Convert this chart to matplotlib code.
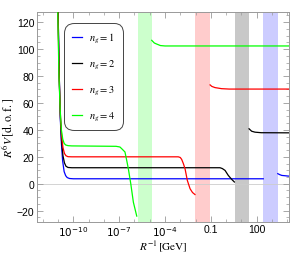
import matplotlib
matplotlib.use('Agg')
import matplotlib.pyplot as plt
import numpy as np

plt.rcParams['font.family'] = ['Liberation Sans', 'DejaVu Sans']
plt.rcParams['mathtext.fontset'] = 'stix'
plt.rcParams['axes.unicode_minus'] = True

# curves: log10(R^-1 / GeV) and R^6 V [d.o.f.]
labels = [r'$n_g = 1$', r'$n_g = 2$', r'$n_g = 3$', r'$n_g = 4$']
colors = ['#0000ff', '#000000', '#ff0000', '#00ff00']

blue_lx = [-11.0, -10.92, -10.85, -10.78, -10.7, -10.6, -10.5, -10.4, -10.25, -10.0, 2.43]
blue_y = [130, 80, 48, 30, 17, 9, 6, 4.6, 3.9, 3.7, 3.7]
blue2_lx = [3.38, 3.5, 3.64, 4.07, 4.3]
blue2_y = [7.5, 6.8, 6.2, 5.7, 5.6]

black_lx = [-11.0, -10.92, -10.85, -10.77, -10.68, -10.58, -10.48, -10.35, -10.1, -0.40, -0.25, -0.07, 0.14, 0.37, 0.54]
black_y = [130, 80, 50, 32, 21, 15.5, 13, 12.1, 11.9, 11.9, 11.3, 9.9, 6.2, 3.2, 1.3]
black2_lx = [1.50, 1.67, 1.89, 2.3, 4.3]
black2_y = [40.8, 39, 38.3, 37.9, 37.8]

red_lx = [-11.01, -10.93, -10.85, -10.77, -10.68, -10.58, -10.48, -10.35, -10.1, -3.13, -3.0, -2.91, -2.8, -2.69, -2.54, -2.36, -2.2, -2.04]
red_y = [130, 80, 52, 36, 27, 22.5, 20.8, 20.1, 20, 20, 19.5, 18.1, 15, 11.2, 2.5, -3.7, -6.5, -8]
red2_lx = [-1.05, -0.94, -0.73, -0.3, 0.2, 4.3]
red2_y = [73.4, 72.3, 71.4, 70.6, 70.3, 70.3]

green_lx = [-11.02, -10.94, -10.86, -10.78, -10.69, -10.6, -10.5, -10.35, -10.1, -7.2, -6.95, -6.83, -6.62, -6.5, -6.40, -6.24, -6.07, -5.85]
green_y = [130, 80, 55, 40, 33, 30, 28.8, 28.3, 28.1, 27.8, 27.3, 26, 23.6, 17, 11.2, 0, -13.7, -24]
green2_lx = [-4.87, -4.7, -4.54, -4.3, -4.0, 4.3]
green2_y = [106.5, 104.5, 103.7, 102.6, 102.3, 102.3]

# excluded bands (log10 GeV)
bands = [(-5.79, -4.87, '#ccffcc'), (-2.04, -1.05, '#ffcccc'),
         (0.56, 1.50, '#c8c8c8'), (2.43, 3.38, '#ccccff')]

xticks = [1e-10, 1e-7, 1e-4, 0.1, 100]
xticklabels = [r'$10^{-10}$', r'$10^{-7}$', r'$10^{-4}$', '0.1', '100']
yticks = [-20, 0, 20, 40, 60, 80, 100, 120]

fig = plt.figure(figsize=(2.91, 2.55), dpi=100)
ax = fig.add_axes([0.128, 0.127, 0.866, 0.823])

for lo, hi, c in bands:
    ax.axvspan(10**lo, 10**hi, color=c, lw=0, zorder=0)
ax.axhline(0, color='#cccccc', lw=0.6, zorder=1)

segs = [(blue_lx, blue_y, blue2_lx, blue2_y), (black_lx, black_y, black2_lx, black2_y),
        (red_lx, red_y, red2_lx, red2_y), (green_lx, green_y, green2_lx, green2_y)]
for (lx, y, lx2, y2), c, lab in zip(segs, colors, labels):
    ax.plot(10**np.array(lx), y, color=c, lw=0.9, label=lab, zorder=3)
    ax.plot(10**np.array(lx2), y2, color=c, lw=0.9, zorder=3)

ax.set_xscale('log')
ax.set_xlim(10**-12.36, 10**4.13)
ax.set_ylim(-28.1, 127.7)

ax.set_xticks(xticks)
ax.set_xticklabels(xticklabels, math_fontfamily='dejavusans')
ax.xaxis.set_minor_locator(matplotlib.ticker.LogLocator(base=10, subs=(1.0,), numticks=30))
ax.xaxis.set_minor_formatter(matplotlib.ticker.NullFormatter())
ax.set_yticks(yticks)
ax.yaxis.set_minor_locator(matplotlib.ticker.MultipleLocator(5))
ax.tick_params(which='both', direction='in', top=True, right=True, color='#999999', labelsize=7.5, pad=2)
ax.tick_params(which='major', length=4, width=0.6)
ax.tick_params(which='minor', length=2, width=0.5)
for s in ax.spines.values():
    s.set_color('#999999')
    s.set_linewidth(0.7)

ax.set_xlabel(r'$R^{-1}\,[\mathrm{GeV}]$', fontsize=8, labelpad=0.5)
ax.set_ylabel(r'$R^6V\,[\mathrm{d.o.f.}]$', fontsize=8.5, labelpad=1)
ax.yaxis.set_label_coords(-0.085, 0.45)

leg = ax.legend(loc='upper left', bbox_to_anchor=(0.107, 0.945), fontsize=7.5,
                handlelength=1.0, handletextpad=0.7, labelspacing=1.25,
                borderpad=0.7, borderaxespad=0, frameon=True, fancybox=True)
fr = leg.get_frame()
fr.set_edgecolor('#444444')
fr.set_linewidth(0.7)
fr.set_boxstyle('round,pad=0,rounding_size=0.9')
fr.set_alpha(1)

fig.savefig('out.png', dpi=100)
